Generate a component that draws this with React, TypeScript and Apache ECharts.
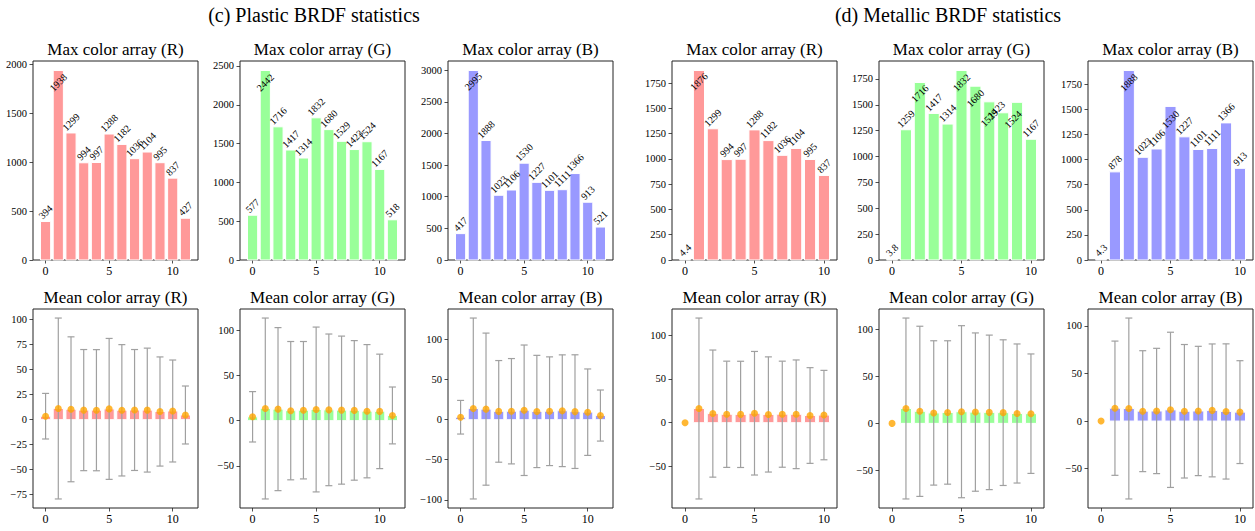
import React, { useEffect, useRef } from 'react';
import * as echarts from 'echarts';

// ---------- data ----------
const plasticMaxR = [394, 1938, 1299, 994, 997, 1288, 1182, 1036, 1104, 995, 837, 427];
const plasticMaxG = [577, 2442, 1716, 1417, 1314, 1832, 1680, 1529, 1423, 1524, 1167, 518];
const plasticMaxB = [417, 2995, 1888, 1023, 1106, 1530, 1227, 1101, 1111, 1366, 913, 521];
const metallicMaxR = [4.4, 1876, 1299, 994, 997, 1288, 1182, 1036, 1104, 995, 837];
const metallicMaxG = [3.8, 1259, 1716, 1417, 1314, 1832, 1680, 1529, 1423, 1524, 1167];
const metallicMaxB = [4.3, 878, 1888, 1023, 1106, 1530, 1227, 1101, 1111, 1366, 913];

const plasticMeanR = [3.5, 11.2, 10.4, 9.6, 9.5, 10.8, 9.4, 9.7, 9.6, 8.2, 8.7, 4.7];
const plasticStdR = [22.8, 90.5, 72.5, 60.6, 60.6, 70.5, 65.7, 60.5, 62.0, 54.6, 51.0, 29.0];
const plasticMeanG = [4.3, 13.5, 12.8, 11.1, 11.6, 12.4, 12.0, 11.7, 11.4, 10.5, 10.3, 5.8];
const plasticStdG = [27.9, 100.2, 90.3, 76.6, 76.1, 91.3, 84.0, 82.0, 77.3, 73.8, 63.4, 31.5];
const plasticMeanB = [3.1, 14.0, 13.2, 10.4, 10.6, 11.8, 10.3, 10.6, 11.2, 10.1, 9.4, 5.2];
const plasticStdB = [21.0, 113.0, 95.0, 63.5, 65.8, 81.5, 70.1, 67.9, 69.8, 71.0, 54.0, 31.9];
const metallicMeanR = [0, 16.2, 10.4, 9.6, 9.5, 10.8, 9.4, 9.7, 9.6, 8.2, 8.7];
const metallicStdR = [0, 103.2, 72.5, 60.6, 60.6, 70.5, 65.7, 60.5, 62.0, 54.6, 51.0];
const metallicMeanG = [0, 15.8, 12.8, 11.1, 11.6, 12.4, 12.0, 11.7, 11.4, 10.5, 10.3];
const metallicStdG = [0, 96.0, 90.3, 76.6, 76.1, 91.3, 84.0, 82.0, 77.3, 73.8, 63.4];
const metallicMeanB = [0, 13.5, 13.2, 10.4, 10.6, 11.8, 10.3, 10.6, 11.2, 10.1, 9.4];
const metallicStdB = [0, 70.5, 95.0, 63.5, 65.8, 81.5, 70.1, 67.9, 69.8, 71.0, 54.0];

const xTicks = [0, 5, 10];
const yTicksPlasticMaxR = [0, 500, 1000, 1500, 2000];
const yTicksPlasticMaxG = [0, 500, 1000, 1500, 2000, 2500];
const yTicksPlasticMaxB = [0, 500, 1000, 1500, 2000, 2500, 3000];
const yTicksMetallicMax = [0, 250, 500, 750, 1000, 1250, 1500, 1750];
const yTicksPlasticMeanR = [-75, -50, -25, 0, 25, 50, 75, 100];
const yTicksPlasticMeanG = [-50, 0, 50, 100];
const yTicksPlasticMeanB = [-100, -50, 0, 50, 100];
const yTicksMetallicMean = [-50, 0, 50, 100];

const groupTitles = ['(c) Plastic BRDF statistics', '(d) Metallic BRDF statistics'];
const maxTitles = ['Max color array (R)', 'Max color array (G)', 'Max color array (B)'];
const meanTitles = ['Mean color array (R)', 'Mean color array (G)', 'Mean color array (B)'];

// ---------- styles / layout ----------
const FAMILY = "'Liberation Serif', 'Times New Roman', serif";
const RED = '#ff9999';
const GREEN = '#99ff99';
const BLUE = '#9999ff';
const ORANGE = '#ffa500';
const ERR = '#a0a0a0';

const colLefts = [33, 240, 448, 672, 879, 1088];
const plotW = 165;
const rowTops = [61, 309];
const plotH = 199;
const groupTitleX = [314, 948];

// label shifts (px, positive = up) for labels moved away from default
const labelShiftY: Record<number, number>[] = [
  { 1: -12 }, { 1: -12 }, { 1: -11 },
  { 1: -11 }, { 2: -11, 5: -12, 6: -12, 7: -16, 8: 3, 9: -17 }, { 2: -12, 5: -13 },
];
const labelShiftX: Record<number, number>[] = [
  {}, {}, {}, {}, { 8: -7, 9: -4 }, {},
];

const topPanels = [
  { vals: plasticMaxR, color: RED, ticks: yTicksPlasticMaxR, title: maxTitles[0] },
  { vals: plasticMaxG, color: GREEN, ticks: yTicksPlasticMaxG, title: maxTitles[1] },
  { vals: plasticMaxB, color: BLUE, ticks: yTicksPlasticMaxB, title: maxTitles[2] },
  { vals: metallicMaxR, color: RED, ticks: yTicksMetallicMax, title: maxTitles[0] },
  { vals: metallicMaxG, color: GREEN, ticks: yTicksMetallicMax, title: maxTitles[1] },
  { vals: metallicMaxB, color: BLUE, ticks: yTicksMetallicMax, title: maxTitles[2] },
];
const bottomPanels = [
  { mean: plasticMeanR, std: plasticStdR, color: RED, ticks: yTicksPlasticMeanR, title: meanTitles[0] },
  { mean: plasticMeanG, std: plasticStdG, color: GREEN, ticks: yTicksPlasticMeanG, title: meanTitles[1] },
  { mean: plasticMeanB, std: plasticStdB, color: BLUE, ticks: yTicksPlasticMeanB, title: meanTitles[2] },
  { mean: metallicMeanR, std: metallicStdR, color: RED, ticks: yTicksMetallicMean, title: meanTitles[0] },
  { mean: metallicMeanG, std: metallicStdG, color: GREEN, ticks: yTicksMetallicMean, title: meanTitles[1] },
  { mean: metallicMeanB, std: metallicStdB, color: BLUE, ticks: yTicksMetallicMean, title: meanTitles[2] },
];

const fmt = (v: number) => (v < 0 ? '\u2212' + Math.abs(v) : String(v));

const textStyle = (text: string, size: number) => ({
  text, fontSize: size, fontFamily: FAMILY, fill: '#000',
  align: 'center', verticalAlign: 'middle', textAlign: 'center', textVerticalAlign: 'middle',
});

function buildOption() {
  const grid: any[] = [];
  const xAxis: any[] = [];
  const yAxis: any[] = [];
  const series: any[] = [];
  const graphic: any[] = [];

  const addAxes = (k: number, left: number, top: number, n: number, ymin: number, ymax: number, yt: number[]) => {
    grid.push({
      left, top, width: plotW, height: plotH, show: true,
      borderColor: '#222', borderWidth: 1, backgroundColor: 'transparent',
    });
    const span = n - 1 + 0.8;
    xAxis.push({
      gridIndex: k, type: 'value', min: -0.4 - 0.05 * span, max: n - 1 + 0.4 + 0.05 * span,
      axisLine: { show: false, onZero: false },
      axisTick: { show: true, inside: false, length: 3.5, lineStyle: { color: '#222', width: 0.8 }, customValues: xTicks },
      axisLabel: { customValues: xTicks, fontFamily: FAMILY, fontSize: 12, color: '#000', margin: 5, formatter: fmt },
      splitLine: { show: false },
    });
    yAxis.push({
      gridIndex: k, type: 'value', min: ymin, max: ymax,
      axisLine: { show: false, onZero: false },
      axisTick: { show: true, inside: false, length: 3.5, lineStyle: { color: '#222', width: 0.8 }, customValues: yt },
      axisLabel: { customValues: yt, fontFamily: FAMILY, fontSize: 10.5, color: '#000', margin: 6, formatter: fmt },
      splitLine: { show: false },
    });
  };

  const barRender = (color: string) => (params: any, api: any) => {
    const x = api.value(0);
    const v = api.value(1);
    const p0 = api.coord([x - 0.4, v]);
    const p1 = api.coord([x + 0.4, 0]);
    return {
      type: 'rect',
      shape: { x: p0[0], y: Math.min(p0[1], p1[1]), width: p1[0] - p0[0], height: Math.abs(p1[1] - p0[1]) },
      style: { fill: color, stroke: '#ffffff', lineWidth: 1 },
    };
  };

  topPanels.forEach((p, c) => {
    const k = c;
    const n = p.vals.length;
    const ymax = Math.max(...p.vals) * 1.05;
    addAxes(k, colLefts[c], rowTops[0], n, 0, ymax, p.ticks);
    const data = p.vals.map((v, i) => [i, v]);
    series.push({
      type: 'custom', xAxisIndex: k, yAxisIndex: k, data, encode: { x: 0, y: 1 },
      renderItem: barRender(p.color), silent: true, z: 2,
    });
    const sy = labelShiftY[c];
    const sx = labelShiftX[c];
    series.push({
      type: 'custom', xAxisIndex: k, yAxisIndex: k, data, encode: { x: 0, y: 1 }, silent: true, z: 4,
      renderItem: (params: any, api: any) => {
        const i = params.dataIndex;
        const v = p.vals[i];
        const txt = String(v);
        const pt = api.coord([api.value(0), api.value(1)]);
        const def = txt.length >= 4 ? 11 : 9.5;
        const dy = sy[i] !== undefined ? sy[i] : def;
        const dx = sx[i] !== undefined ? sx[i] : 0;
        return {
          type: 'text', x: pt[0] + dx, y: pt[1] - dy, rotation: Math.PI / 4,
          style: textStyle(txt, 10),
        };
      },
    });
    graphic.push({
      type: 'text', x: colLefts[c] + plotW / 2, y: rowTops[0] - 11.5,
      style: textStyle(p.title, 17),
    });
  });

  bottomPanels.forEach((p, c) => {
    const k = 6 + c;
    const n = p.mean.length;
    const his = p.mean.map((m, i) => m + p.std[i]);
    const los = p.mean.map((m, i) => m - p.std[i]);
    const hi = Math.max(0, ...his);
    const lo = Math.min(0, ...los);
    const pad = 0.05 * (hi - lo);
    addAxes(k, colLefts[c], rowTops[1], n, lo - pad, hi + pad, p.ticks);
    series.push({
      type: 'custom', xAxisIndex: k, yAxisIndex: k, data: p.mean.map((m, i) => [i, m]), encode: { x: 0, y: 1 },
      renderItem: barRender(p.color), silent: true, z: 2,
    });
    series.push({
      type: 'custom', xAxisIndex: k, yAxisIndex: k, data: p.mean.map((m, i) => [i, m, p.std[i]]),
      encode: { x: 0, y: 1 }, silent: true, z: 3,
      renderItem: (params: any, api: any) => {
        const x = api.value(0);
        const m = api.value(1);
        const s = api.value(2);
        if (!s) return { type: 'group', children: [] };
        const a = api.coord([x, m + s]);
        const b = api.coord([x, m - s]);
        const st = { stroke: ERR, lineWidth: 1.2 };
        const cap = 3.5;
        return {
          type: 'group',
          children: [
            { type: 'line', shape: { x1: a[0], y1: a[1], x2: b[0], y2: b[1] }, style: st },
            { type: 'line', shape: { x1: a[0] - cap, y1: a[1], x2: a[0] + cap, y2: a[1] }, style: st },
            { type: 'line', shape: { x1: b[0] - cap, y1: b[1], x2: b[0] + cap, y2: b[1] }, style: st },
          ],
        };
      },
    });
    series.push({
      type: 'scatter', xAxisIndex: k, yAxisIndex: k, data: p.mean.map((m, i) => [i, m]),
      symbol: 'circle', symbolSize: 7, itemStyle: { color: ORANGE }, silent: true, z: 5,
    });
    graphic.push({
      type: 'text', x: colLefts[c] + plotW / 2, y: rowTops[1] - 11.5,
      style: textStyle(p.title, 17),
    });
  });

  groupTitles.forEach((t, g) => {
    graphic.push({
      type: 'text', x: groupTitleX[g], y: 15,
      style: textStyle(t, 20),
    });
  });

  return { animation: false, backgroundColor: '#ffffff', grid, xAxis, yAxis, series, graphic };
}

export default function App() {
  const ref = useRef<HTMLDivElement>(null);
  useEffect(() => {
    if (!ref.current) return;
    const chart = echarts.init(ref.current, null, { renderer: 'svg' });
    chart.setOption(buildOption() as any);
    return () => chart.dispose();
  }, []);
  return (
    <div
      ref={ref}
      style={{ position: 'fixed', left: 0, top: 0, width: 1255, height: 531, background: '#ffffff' }}
    />
  );
}
